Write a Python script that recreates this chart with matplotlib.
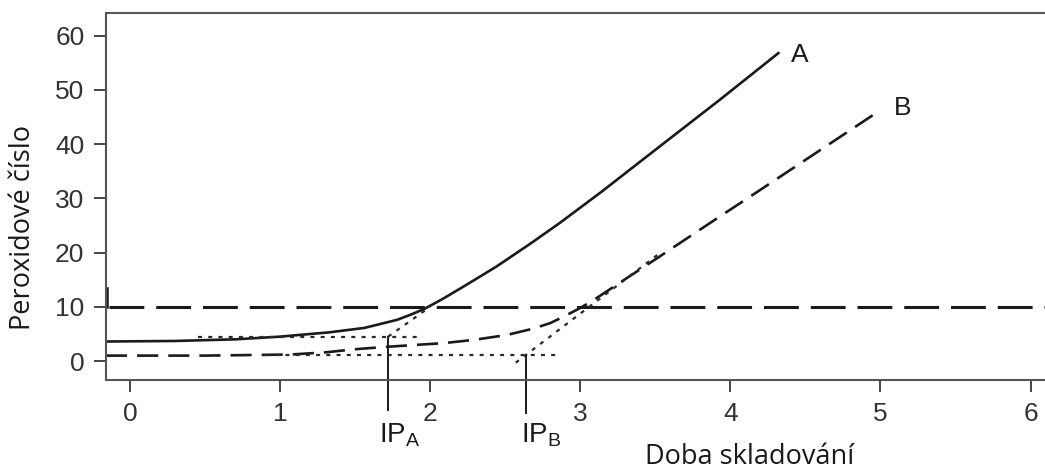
import matplotlib
matplotlib.use('Agg')
import matplotlib.pyplot as plt

# --- data ---
# curve A (solid)
timeA = [-0.16, 0.3, 0.7, 1.0, 1.33, 1.56, 1.78, 1.87, 1.96, 2.08, 2.22, 2.44, 2.67,
         2.87, 3.15, 3.4, 3.93, 4.32]
pvA = [3.6, 3.7, 4.0, 4.5, 5.3, 6.1, 7.6, 8.55, 9.6, 11.4, 13.7, 17.4, 21.7,
       25.6, 31.4, 36.8, 48.2, 56.8]
# curve B (dashed)
timeB = [-0.16, 0.5, 1.07, 1.3, 1.51, 1.7, 1.89, 2.09, 2.29, 2.51, 2.69, 2.8, 2.89,
         2.98, 3.07, 3.25, 3.53, 3.91, 4.13, 4.99]
pvB = [1.0, 1.0, 1.2, 1.6, 2.2, 2.6, 2.95, 3.3, 3.9, 4.8, 6.0, 7.0, 8.2,
       9.5, 10.9, 14.2, 19.3, 26.3, 30.3, 46.1]
# limit line
limitPV = 10
# tangent construction lines (dotted)
tanA_x = [0.45, 1.95]
tanA_y = [4.4, 4.4]
riseA_x = [1.72, 2.0]
riseA_y = [4.5, 10.0]
tanB_x = [0.9, 2.84]
tanB_y = [1.2, 1.2]
riseB_x = [2.57, 3.53]
riseB_y = [-0.3, 19.9]
# induction periods
ipA = 1.72
ipB = 2.64
ipA_top = 4.5
ipB_top = 0.9

xticks = [0, 1, 2, 3, 4, 5, 6]
yticks = [0, 10, 20, 30, 40, 50, 60]

tickFont = 'Liberation Sans'
labelFont = 'Open Sans'

fig = plt.figure(figsize=(10.45, 4.71), dpi=100)
ax = fig.add_axes([0.1014, 0.1932, 0.902, 0.7792])
ax.set_xlim(-0.16, 6.12)
ax.set_ylim(-3.5, 64.2)

ink = '#1a1a1a'
ax.plot(timeA, pvA, color=ink, lw=1.9, solid_joinstyle='round')
ax.plot(timeB, pvB, color=ink, lw=1.9, dashes=(8, 3.8))
ax.axhline(limitPV, color=ink, lw=2.2, dashes=(11.4, 3.9), xmin=0.003)
dot = dict(color='#2a2a2a', lw=1.6, dashes=(1.8, 2.8))
ax.plot(tanA_x, tanA_y, **dot)
ax.plot(riseA_x, riseA_y, **dot)
ax.plot(tanB_x, tanB_y, **dot)
ax.plot(riseB_x, riseB_y, **dot)
# small stub on the left spine
ax.plot([-0.152, -0.152], [10, 13.5], color=ink, lw=1.8, clip_on=False)

# vertical markers for induction periods, running below the axis
ax.plot([ipA, ipA], [ipA_top, -9.0], color=ink, lw=1.4, clip_on=False)
ax.plot([ipB, ipB], [ipB_top, -9.6], color=ink, lw=1.4, clip_on=False)
ax.text(1.8, -13.6, 'IP$_\\mathregular{A}$', ha='center', va='center', fontsize=20,
        family=tickFont, color=ink, clip_on=False)
ax.text(2.74, -13.6, 'IP$_\\mathregular{B}$', ha='center', va='center', fontsize=20,
        family=tickFont, color=ink, clip_on=False)

ax.text(4.46, 56.5, 'A', ha='center', va='center', fontsize=19, family=tickFont, color=ink)
ax.text(5.15, 46.7, 'B', ha='center', va='center', fontsize=19, family=tickFont, color=ink)

ax.set_xticks(xticks)
ax.set_yticks(yticks)
ax.set_xticklabels([str(v) for v in xticks], family=tickFont, fontsize=19, color='#333333')
ax.set_yticklabels([str(v) for v in yticks], family=tickFont, fontsize=19, color='#333333')
ax.tick_params(direction='out', length=8.5, width=1.4, color='#444444', pad=7)
for sp in ax.spines.values():
    sp.set_linewidth(1.5)
    sp.set_color('#555555')

fig.text(750 / 1045, 1 - 457 / 471, 'Doba skladování', ha='center', va='center',
         fontsize=19.5, family=labelFont, color=ink)
fig.text(23 / 1045, 1 - 227 / 471, 'Peroxidové číslo', ha='center', va='center',
         rotation=90, fontsize=19.5, family=labelFont, color=ink)

fig.savefig('out.png', dpi=100)
